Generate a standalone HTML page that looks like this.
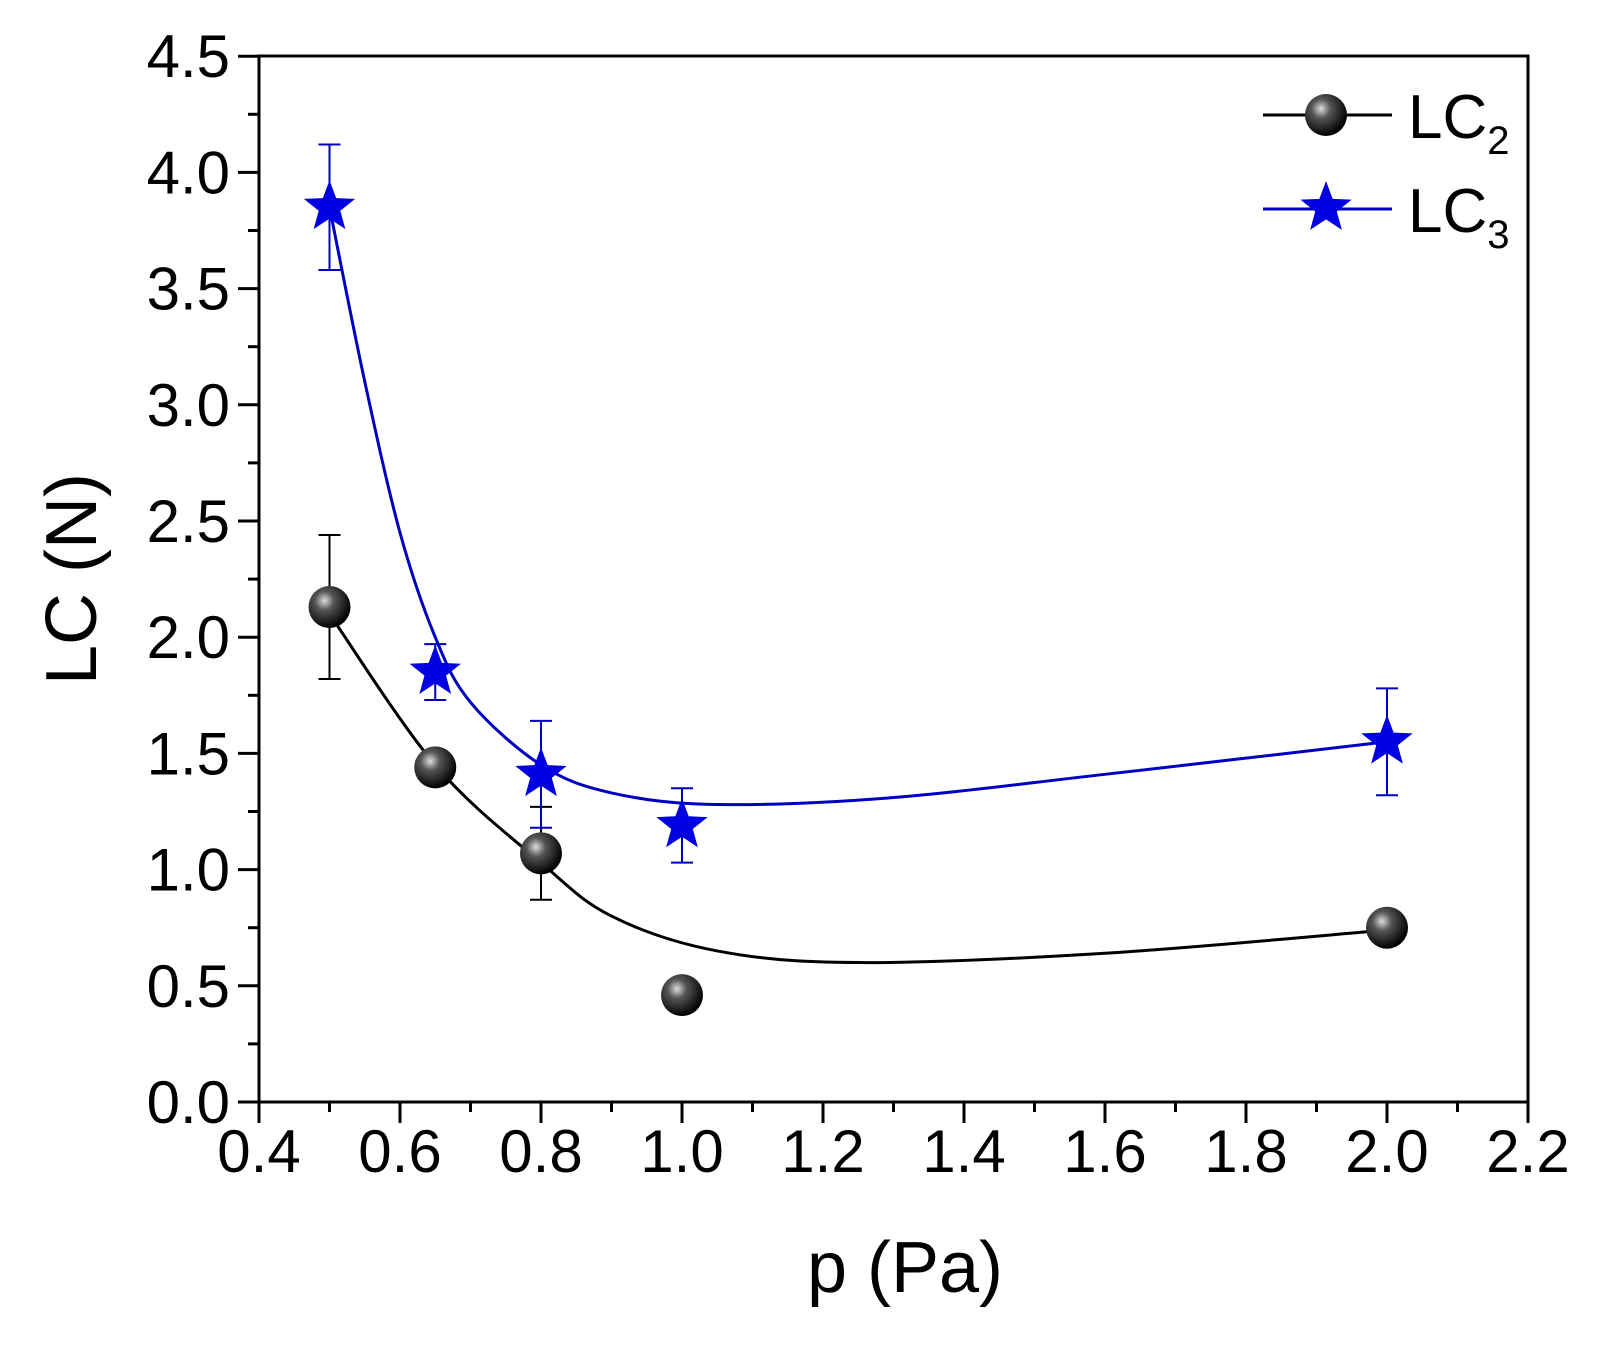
<!DOCTYPE html>
<html><head><style>body{margin:0;background:#fff}svg{display:block}</style></head>
<body>
<svg id="s" width="1604" height="1352" xmlns="http://www.w3.org/2000/svg" font-family="Liberation Sans, Arial, sans-serif">
<defs>
<radialGradient id="g" cx="0.38" cy="0.35" r="0.65">
<stop offset="0" stop-color="#ddd"/><stop offset="0.35" stop-color="#555"/><stop offset="1" stop-color="#000"/>
</radialGradient>
</defs>
<rect x="259" y="56" width="1269" height="1046" fill="none" stroke="#000" stroke-width="3"/>
<text x="905" y="1292" font-size="72" text-anchor="middle">p (Pa)</text>
<text transform="translate(96,579) rotate(-90)" font-size="72" text-anchor="middle">LC (N)</text>
<line x1="1263" y1="115" x2="1392" y2="115" stroke="#000" stroke-width="3"/>
<circle cx="1326" cy="115" r="21" fill="url(#g)"/>
<line x1="1263" y1="209" x2="1392" y2="209" stroke="#0000c0" stroke-width="3"/>
<text x="1408" y="138" font-size="62">LC<tspan font-size="40" dy="16">2</tspan></text>
<text x="1408" y="232" font-size="62">LC<tspan font-size="40" dy="16">3</tspan></text>
</svg>
<script>
const NS="http://www.w3.org/2000/svg",s=document.getElementById('s');
const X=x=>259+(x-0.4)*705, Y=y=>1102-y*232.4;
function el(t,a){const e=document.createElementNS(NS,t);for(const k in a)e.setAttribute(k,a[k]);s.appendChild(e);return e;}
for(let i=0;i<=18;i++){const x=X(0.4+i*0.1),maj=i%2==0;el('line',{x1:x,y1:1102,x2:x,y2:maj?1123:1112,stroke:'#000','stroke-width':3});
 if(maj){const t=el('text',{x:x,y:1172,'font-size':60,'text-anchor':'middle'});t.textContent=(0.4+i*0.1).toFixed(1);}}
for(let i=0;i<=18;i++){const y=Y(i*0.25),maj=i%2==0;el('line',{x1:259,y1:y,x2:maj?238:248,y2:y,stroke:'#000','stroke-width':3});
 if(maj){const t=el('text',{x:230,y:y+21,'font-size':60,'text-anchor':'end'});t.textContent=(i*0.25).toFixed(1);}}
function curve(p,c){let d='';const P=p.map(q=>[X(q[0]),Y(q[1])]);d='M'+P[0];
 for(let i=0;i<P.length-1;i++){const p0=P[i-1]||P[i],p1=P[i],p2=P[i+1],p3=P[i+2]||P[i+1];
 d+=' C'+[p1[0]+(p2[0]-p0[0])/6,p1[1]+(p2[1]-p0[1])/6]+' '+[p2[0]-(p3[0]-p1[0])/6,p2[1]-(p3[1]-p1[1])/6]+' '+p2;}
 el('path',{d:d,fill:'none',stroke:c,'stroke-width':3});}
curve([[0.5,2.1],[0.65,1.45],[0.8,1.03],[0.9,0.8],[1.05,0.65],[1.25,0.6],[1.6,0.64],[2.0,0.74]],'#000');
curve([[0.5,3.85],[0.55,3.1],[0.6,2.45],[0.65,2.0],[0.7,1.72],[0.8,1.45],[0.9,1.33],[1.05,1.28],[1.3,1.31],[1.6,1.41],[2.0,1.55]],'#0000c0');
function err(x,y,e,c){const cx=X(x);el('line',{x1:cx,y1:Y(y-e),x2:cx,y2:Y(y+e),stroke:c,'stroke-width':2});
 [y-e,y+e].forEach(v=>el('line',{x1:cx-11,y1:Y(v),x2:cx+11,y2:Y(v),stroke:c,'stroke-width':2}));}
function star(cx,cy,r,c){let pts=[];for(let i=0;i<10;i++){const a=-Math.PI/2+i*Math.PI/5,rr=i%2?r*0.42:r;pts.push([cx+rr*Math.cos(a),cy+rr*Math.sin(a)]);}
 el('polygon',{points:pts.join(' '),fill:c});}
const L2=[[0.5,2.13,0.31],[0.65,1.44,0.04],[0.8,1.07,0.2],[1.0,0.46,0],[2.0,0.75,0]];
const L3=[[0.5,3.85,0.27],[0.65,1.85,0.12],[0.8,1.41,0.23],[1.0,1.19,0.16],[2.0,1.55,0.23]];
L2.forEach(p=>p[2]&&err(p[0],p[1],p[2],'#000'));
L3.forEach(p=>err(p[0],p[1],p[2],'#0000c0'));
L2.forEach(p=>el('circle',{cx:X(p[0]),cy:Y(p[1]),r:21,fill:'url(#g)'}));
L3.forEach(p=>star(X(p[0]),Y(p[1]),27,'#0000e0'));
star(1326,208,27,'#0000e0');
</script>
</body></html>
